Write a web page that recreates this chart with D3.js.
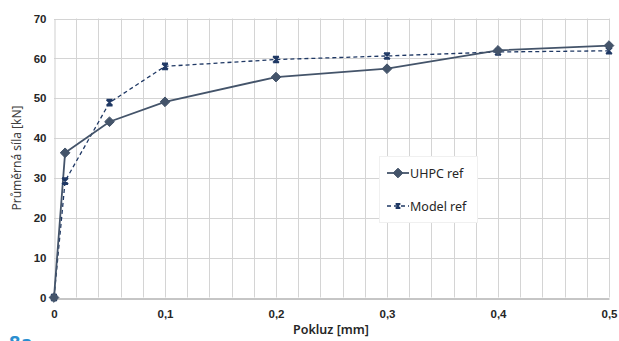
<!DOCTYPE html>
<html>
<head>
<meta charset="utf-8">
<script src="https://cdn.jsdelivr.net/npm/d3@7"></script>
<style>
  body { margin: 0; background: #fff; }
  svg { display: block; font-family: "Noto Sans", "Open Sans", sans-serif; }
</style>
</head>
<body>
<svg id="chart" width="619" height="341"></svg>
<script>
// values
var xValues   = [0, 0.01, 0.05, 0.1, 0.2, 0.3, 0.4, 0.5];
var uhpcRef   = [0, 36.3, 44.1, 49.1, 55.3, 57.4, 62.0, 63.2];
var modelRef  = [0, 29.2, 48.9, 58.0, 59.7, 60.6, 61.6, 61.9];
var xTicks    = [0, 0.1, 0.2, 0.3, 0.4, 0.5];
var yTicks    = [0, 10, 20, 30, 40, 50, 60, 70];
var seriesNames = ["UHPC ref", "Model ref"];

var svg = d3.select("#chart");

var x = d3.scaleLinear().domain([0, 0.5]).range([54, 609]);
var y = d3.scaleLinear().domain([0, 70]).range([297.5, 18.5]);

var fmt = function(d){ return d === 0 ? "0" : d3.format(".1f")(d).replace(".", ","); };

// grid lines
var grid = svg.append("g");
grid.selectAll(".vg")
    .data(d3.range(1, 26).map(function(i){ return i * 0.02; }))
    .enter().append("line")
    .attr("x1", function(d){ return Math.round(x(d)) + 0.5; })
    .attr("x2", function(d){ return Math.round(x(d)) + 0.5; })
    .attr("y1", y(70)).attr("y2", y(0))
    .attr("stroke", "#d4d4d4");
grid.selectAll(".hg")
    .data(yTicks.slice(1))
    .enter().append("line")
    .attr("x1", x(0)).attr("x2", x(0.5))
    .attr("y1", function(d){ return Math.round(y(d)) + 0.5; })
    .attr("y2", function(d){ return Math.round(y(d)) + 0.5; })
    .attr("stroke", "#d4d4d4");

// axes
var xAxis = svg.append("g")
    .attr("transform", "translate(0," + (Math.round(y(0)) + 0.5) + ")")
    .call(d3.axisBottom(x).tickValues(xTicks).tickFormat(fmt).tickSize(0).tickPadding(11));
xAxis.select(".domain").attr("stroke", "#8c8c8c");

var yAxis = svg.append("g")
    .attr("transform", "translate(" + (Math.round(x(0)) + 0.5) + ",0)")
    .call(d3.axisLeft(y).tickValues(yTicks).tickSize(0).tickPadding(8));
yAxis.select(".domain").attr("stroke", "#cfcfcf");

svg.selectAll(".tick text")
    .attr("font-size", "11.5px")
    .attr("font-weight", "600")
    .attr("fill", "#262626");

// axis titles
svg.append("text")
    .attr("x", 331).attr("y", 334)
    .attr("text-anchor", "middle")
    .attr("font-size", "12.5px")
    .attr("font-weight", "600")
    .attr("fill", "#262626")
    .text("Pokluz [mm]");

svg.append("text")
    .attr("transform", "translate(21,158) rotate(-90)")
    .attr("text-anchor", "middle")
    .attr("font-size", "12px")
    .attr("fill", "#404040")
    .text("Průměrná síla [kN]");

// series
var uhpcData  = xValues.map(function(d, i){ return [d, uhpcRef[i]]; });
var modelData = xValues.map(function(d, i){ return [d, modelRef[i]]; });

var line = d3.line()
    .x(function(d){ return x(d[0]); })
    .y(function(d){ return y(d[1]); });

svg.append("path")
    .datum(modelData)
    .attr("d", line)
    .attr("fill", "none")
    .attr("stroke", "#1f3864")
    .attr("stroke-width", 1.3)
    .attr("stroke-dasharray", "4,3");

svg.append("path")
    .datum(uhpcData)
    .attr("d", line)
    .attr("fill", "none")
    .attr("stroke", "#44546a")
    .attr("stroke-width", 1.8);

var diamond = d3.symbol().type(d3.symbolDiamond2).size(60);
var star = "M-3,-3L3,3M3,-3L-3,3M0,-3.5L0,3.5M-3,-3L3,-3M-3,3L3,3";

function drawUhpcMarker(g){
    g.append("path").attr("d", diamond()).attr("fill", "#44546a").attr("stroke", "#44546a").attr("stroke-width", 1);
}
function drawModelMarker(g){
    g.append("path").attr("d", star).attr("fill", "none").attr("stroke", "#1f3864").attr("stroke-width", 1.6);
}

svg.selectAll(".mk-model")
    .data(modelData)
    .enter().append("g")
    .attr("transform", function(d){ return "translate(" + x(d[0]) + "," + y(d[1]) + ")"; })
    .each(function(){ drawModelMarker(d3.select(this)); });

svg.selectAll(".mk-uhpc")
    .data(uhpcData)
    .enter().append("g")
    .attr("transform", function(d){ return "translate(" + x(d[0]) + "," + y(d[1]) + ")"; })
    .each(function(){ drawUhpcMarker(d3.select(this)); });

// legend
var legend = svg.append("g");
legend.append("rect")
    .attr("x", 379.5).attr("y", 156.5)
    .attr("width", 98).attr("height", 66)
    .attr("fill", "#fff")
    .attr("stroke", "#f0f0f0");

var ly = [173, 206];
legend.append("line").attr("x1", 387).attr("x2", 409).attr("y1", ly[0]).attr("y2", ly[0])
    .attr("stroke", "#44546a").attr("stroke-width", 1.8);
drawUhpcMarker(legend.append("g").attr("transform", "translate(398," + ly[0] + ")"));

legend.append("line").attr("x1", 387).attr("x2", 409).attr("y1", ly[1]).attr("y2", ly[1])
    .attr("stroke", "#1f3864").attr("stroke-width", 1.3).attr("stroke-dasharray", "4,3");
drawModelMarker(legend.append("g").attr("transform", "translate(398," + ly[1] + ") scale(0.8)"));

legend.selectAll(".lt")
    .data(seriesNames)
    .enter().append("text")
    .attr("x", 410)
    .attr("y", function(d, i){ return ly[i] + 4.5; })
    .attr("font-size", "12.5px")
    .attr("fill", "#262626")
    .text(function(d){ return d; });

// cut-off page label at the bottom (it is cut off in the original too)
svg.append("text")
    .attr("x", 9).attr("y", 350)
    .attr("font-size", "20px")
    .attr("font-weight", "700")
    .attr("fill", "#2a8fd0")
    .text("8a");
</script>
</body>
</html>
